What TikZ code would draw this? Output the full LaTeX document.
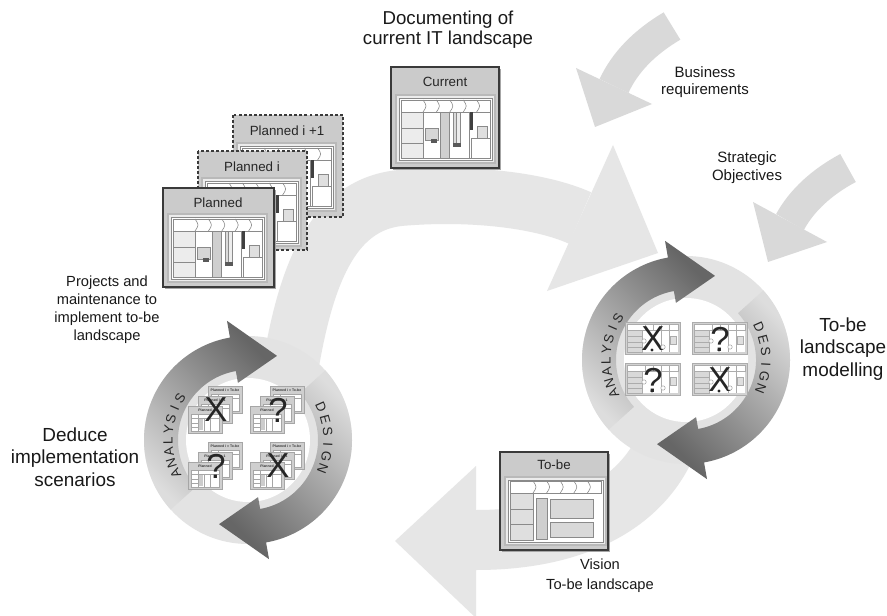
\documentclass[tikz,border=0pt]{standalone}
\usepackage{fontspec}
\setmainfont{Liberation Sans}
\usetikzlibrary{calc}
\definecolor{bandA}{HTML}{E6E6E6}
\definecolor{bandB}{HTML}{D9D9D9}
\definecolor{ringC}{HTML}{E3E3E3}
\definecolor{ringL}{HTML}{DDDDDD}
\definecolor{darkA}{HTML}{666666}
\definecolor{boxF}{HTML}{CBCBCB}
\definecolor{boxE}{HTML}{3A3A3A}
\definecolor{lineG}{HTML}{8A8A8A}
\tikzset{
 lbl/.style={align=center, inner sep=0pt, text=black!90},
 boxtitle/.style={inner sep=0pt, font=\fontsize{10}{12}\selectfont, text=black!85},
 ringtxt/.style={inner sep=0pt, font=\fontsize{10}{10}\selectfont, text=black!85},
 bigq/.style={inner sep=0pt, font=\fontsize{26}{26}\selectfont, text=black!85},
 tinyt/.style={inner sep=0pt, font=\fontsize{2.6}{3}\selectfont\bfseries, text=black!80},
 appbox/.style={fill=boxF, draw=boxE, line width=1pt},
 dashbox/.style={fill=boxF, draw=boxE, line width=1pt, dash pattern=on 2.2pt off 1.6pt},
}
\newcommand{\landA}[2]{%
\begin{scope}[shift={(#1,-#2)}, line width=0.45pt]
 \draw[gray!55, fill=gray!15, line width=0.8pt] (-3,3) rectangle (96,-65);
 \draw[lineG, fill=white] (0,0) rectangle (93,-62);
 \draw[lineG, fill=white] (2,-2) rectangle (91,-14);
 \foreach \xx in {24,37.4,50.8,64.2,77.6} \draw[lineG] (\xx,-2) .. controls (\xx+4,-8) .. (\xx,-14);
 \draw[lineG, fill=gray!15] (2,-14) rectangle (24,-60);
 \draw[lineG] (2,-30) -- (24,-30) (2,-45) -- (24,-45);
 \draw[lineG, fill=white] (24,-14) rectangle (41,-60);
 \draw[lineG, fill=gray!32] (26,-30) rectangle (39,-42);
 \fill[black!65] (32,-41) rectangle (38,-45);
 \draw[lineG, fill=gray!38] (41,-14) rectangle (50,-60);
 \draw[lineG, fill=white] (50,-14) rectangle (70,-60);
 \draw[lineG, fill=gray!28] (54,-14) rectangle (57,-46);
 \draw[lineG, fill=gray!14] (57,-14) rectangle (61,-46);
 \fill[black!65] (54,-45) rectangle (62,-49);
 \draw[lineG, fill=white] (70,-14) rectangle (91,-60);
 \fill[black!75] (71,-14) rectangle (73.5,-32);
 \draw[lineG, fill=gray!25] (78,-28) rectangle (88,-40);
 \draw[lineG] (72,-40) rectangle (91,-60);
\end{scope}}
\newcommand{\landB}[2]{%
\begin{scope}[shift={(#1,-#2)}, line width=0.45pt]
 \draw[gray!55, fill=gray!15, line width=0.8pt] (-3,3) rectangle (98,-65);
 \draw[lineG, fill=white] (0,0) rectangle (95,-62);
 \draw[lineG, fill=white] (2,-1) rectangle (93,-13);
 \foreach \xx in {25,38.6,52.2,65.8,79.4} \draw[lineG] (\xx,-1) .. controls (\xx+4,-7) .. (\xx,-13);
 \draw[lineG, fill=gray!25] (2,-13) rectangle (25,-60);
 \draw[lineG] (2,-29) -- (25,-29) (2,-44) -- (25,-44);
 \draw[lineG, fill=gray!38] (28,-18) rectangle (39,-59);
 \draw[lineG, fill=gray!30] (42,-19) rectangle (85,-38);
 \draw[lineG, fill=gray!30] (42,-42) rectangle (85,-57);
\end{scope}}
\newcommand{\tinyplan}[3]{%
\begin{scope}[shift={(#1,-#2)}, line width=0.35pt]
 \draw[gray!70, fill=gray!38] (0,0) rectangle (34,-27);
 \node[tinyt] at (17,-4) {#3};
 \draw[gray!70, fill=white] (3,-8) rectangle (31,-25);
 \draw[gray!70] (3,-12) -- (31,-12) (10,-8) -- (10,-25) (3,-17) -- (10,-17) (3,-21) -- (10,-21) (16,-12) -- (16,-25) (22,-12) -- (22,-25);
 \fill[gray!40] (11,-13) rectangle (15,-24);
\end{scope}}
\newcommand{\stackicon}[3]{%
\begin{scope}[shift={(#1,-#2)}]
 \tinyplan{20}{0}{Planned i = To-be}
 \tinyplan{10}{10}{Planned i + 1}
 \tinyplan{0}{20}{Planned}
 \node[bigq] at (28,-24) {#3};
\end{scope}}
\newcommand{\miniicon}[3]{%
\begin{scope}[shift={(#1,-#2)}, line width=0.4pt]
 \draw[gray!65, fill=gray!35] (0,0) rectangle (55,-32);
 \fill[white] (2,-2) rectangle (53,-30);
 \draw[gray!65] (2,-2) rectangle (53,-8);
 \foreach \xx in {20,28,36,44} \draw[gray!65] (\xx,-2) -- (\xx,-8);
 \draw[gray!65, fill=gray!30] (2,-8) rectangle (17,-30);
 \draw[gray!65] (2,-14) -- (17,-14) (2,-20) -- (17,-20) (2,-25) -- (17,-25);
 \draw[gray!65] (36,-8) -- (36,-30) (44,-8) -- (44,-30);
 \draw[gray!65, fill=gray!25] (45,-14) rectangle (51,-22);
 \node[bigq] at (28,-17) {#3};
 \draw[gray!70, fill=white] (19,-19) circle[radius=2.2];
 \draw[gray!70, fill=white] (38,-25) circle[radius=2.2];
 \fill[black!85] (27,-28) circle[radius=1.6];
\end{scope}}
\newcommand{\cyclering}[2]{%
\begin{scope}[shift={(#1,-#2)}]
 \fill[ringC] (0,0) circle[radius=104];
 \fill[white] (0,0) circle[radius=62];
 \shade[top color=darkA, bottom color=ringL, shading angle=-45]
   (222:104) arc[start angle=222, end angle=100, radius=104] -- (100:121) -- (71:89) -- (100:58) -- (100:70) arc[start angle=100, end angle=222, radius=70] -- cycle;
 \shade[top color=ringL, bottom color=darkA, shading angle=-45]
   (42:104) arc[start angle=42, end angle=-80, radius=104] -- (-80:121) -- (-109:89) -- (-80:58) -- (-80:70) arc[start angle=-80, end angle=42, radius=70] -- cycle;
 \foreach \ch [count=\i] in {A,N,A,L,Y,S,I,S} {\pgfmathsetmacro\ang{205-(\i-1)*8.1}\node[ringtxt, rotate=\ang-90] at (\ang:80) {\ch};}
 \foreach \ch [count=\i] in {D,E,S,I,G,N} {\pgfmathsetmacro\ang{24-(\i-1)*9}\node[ringtxt, rotate=\ang-90] at (\ang:80) {\ch};}
\end{scope}}
\begin{document}
\begin{tikzpicture}[x=0.75pt, y=0.75pt]
\useasboundingbox (0,0) rectangle (887,-616);
\fill[white] (0,0) rectangle (887,-616);
% big background bands
\draw[bandA, line width=42pt] (290,-370) .. controls (305,-280) and (330,-205) .. (400,-198) .. controls (470,-192) and (540,-200) .. (580,-218);
\fill[bandA] (547,-291) -- (613,-145) -- (658,-253) -- cycle;
\draw[bandA, line width=45pt] (672,-430) .. controls (650,-500) and (580,-540) .. (476,-540);
\fill[bandA] (476,-466) -- (476,-618) -- (395,-541) -- cycle;
% input arrows
\draw[bandB, line width=24pt] (672,-26) .. controls (645,-42) and (625,-62) .. (614,-86);
\fill[bandB] (652,-104) -- (576,-68) -- (595,-127) -- cycle;
\draw[bandB, line width=24pt] (848,-168) .. controls (822,-182) and (802,-200) .. (790,-222);
\fill[bandB] (827,-242) -- (753,-202) -- (768,-262) -- cycle;
% cycles
\cyclering{248}{440}
\cyclering{686}{360}
% left cycle icons
\stackicon{188}{386}{X}
\stackicon{250}{386}{?}
\stackicon{188}{442}{?}
\stackicon{250}{442}{X}
% right cycle icons
\miniicon{625}{322}{X}
\miniicon{692}{322}{?}
\miniicon{625}{363}{?}
\miniicon{692}{363}{X}
% Current box
\fill[black!35] (393,-69) rectangle (501,-170);
\draw[appbox] (391,-67) rectangle (499,-168);
\node[boxtitle] (cur) at (445,-82) {Current};
\landA{399}{98}
% Planned stack
\draw[dashbox] (233,-115) rectangle (343,-217);
\node[boxtitle] (pl2) at (287,-131) {Planned i +1};
\landA{240}{146}
\draw[dashbox] (198,-151) rectangle (307,-250);
\node[boxtitle] (pl1) at (252,-167) {Planned i};
\landA{205}{181}
\fill[black!35] (165,-190) rectangle (276,-289);
\draw[appbox] (163,-188) rectangle (274,-287);
\node[boxtitle] (pl0) at (218,-203) {Planned};
\landA{171}{217}
% To-be box
\fill[black!35] (502,-454) rectangle (610,-552);
\draw[appbox] (500,-452) rectangle (608,-550);
\node[boxtitle] (tobe) at (554,-465) {To-be};
\landB{508}{480}
% labels
\node[lbl, font=\fontsize{14}{15}\selectfont] (doc) at (448,-30) {Documenting of\\current IT landscape};
\node[lbl, font=\fontsize{11.25}{12.8}\selectfont] (bus) at (705,-82) {Business\\requirements};
\node[lbl, font=\fontsize{11.25}{13.5}\selectfont] (strat) at (747,-168) {Strategic\\Objectives};
\node[lbl, font=\fontsize{11}{13.5}\selectfont] (proj) at (107,-310) {Projects and\\maintenance to\\implement to-be\\landscape};
\node[lbl, font=\fontsize{14.2}{17}\selectfont] (ded) at (75,-457) {Deduce\\implementation\\scenarios};
\node[lbl, font=\fontsize{14.2}{17}\selectfont] (mod) at (843,-349) {To-be\\landscape\\modelling};
\node[lbl, font=\fontsize{11}{15}\selectfont] (vis) at (600,-576) {Vision\\To-be landscape};
\end{tikzpicture}
\end{document}
